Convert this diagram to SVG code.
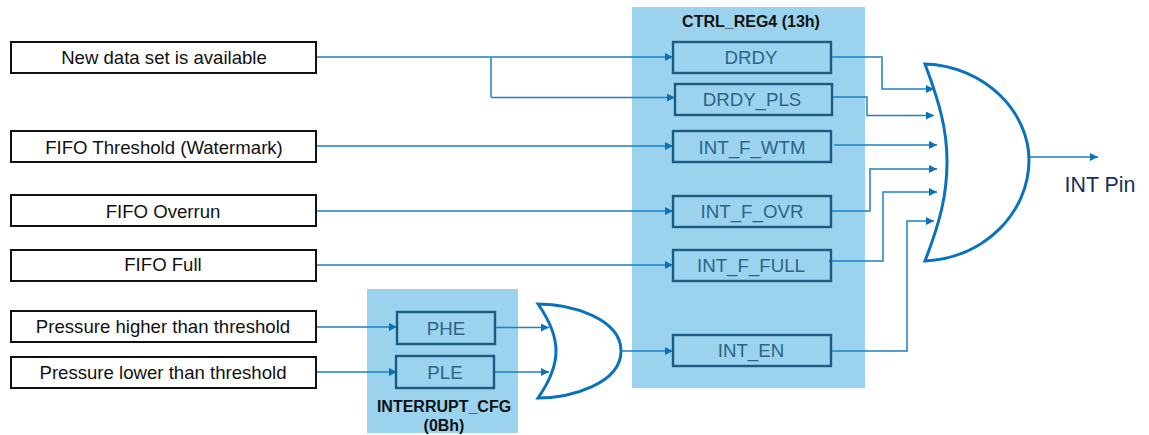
<svg xmlns="http://www.w3.org/2000/svg" width="1149" height="435" viewBox="0 0 1149 435">
<style>
text{font-family:"Liberation Sans",Arial,sans-serif;text-anchor:middle}
.panel{fill:#9bd3ee}
.src{fill:#fff;stroke:#111;stroke-width:2}
.src-t{font-size:18.6px;fill:#111}
.reg{fill:none;stroke:#1d5a80;stroke-width:2.4}
.reg-t{font-size:18.7px;fill:#2c6488}
.title{font-size:16px;font-weight:bold;fill:#111}
.gate{fill:#fff;stroke:#0a72bc;stroke-width:3;stroke-linejoin:miter}
.wire{fill:none;stroke:#1b81c8;stroke-width:1.5;marker-end:url(#arrow)}
.plain{fill:none;stroke:#1b81c8;stroke-width:1.5}
</style>
<defs>
<marker id="arrow" markerUnits="userSpaceOnUse" markerWidth="8" markerHeight="8" refX="8" refY="4" orient="auto">
<path d="M0 0L8 4L0 8Z" fill="#0a72bc"/>
</marker>
</defs>
<g id="panel-ctrl"><rect class="panel" x="632" y="7" width="233" height="381"/><text class="title" x="751" y="27">CTRL_REG4 (13h)</text></g>
<g id="panel-cfg"><rect class="panel" x="367" y="289" width="151" height="144"/><text class="title" x="444" y="412">INTERRUPT_CFG</text><text class="title" x="444" y="431">(0Bh)</text></g>
<g id="connectors">
<path class="wire" d="M316 57H673"/>
<path class="plain" d="M491 57V97"/>
<path class="wire" d="M491 97.500H675"/>
<path class="wire" d="M316 146H673"/>
<path class="wire" d="M316 211H673"/>
<path class="wire" d="M316 265H673"/>
<path class="wire" d="M316 327H397"/>
<path class="wire" d="M316 372H397"/>
<path class="wire" d="M495 327.500H549"/>
<path class="wire" d="M494 372H549"/>
<path class="wire" d="M620 351H673"/>
<path class="wire" d="M831 57H882V89H934"/>
<path class="wire" d="M832 97H867V115.500H934"/>
<path class="wire" d="M834 145H937"/>
<path class="wire" d="M831 211H870V169H937"/>
<path class="wire" d="M829 261H883V192H937"/>
<path class="wire" d="M831 351H907V221H934"/>
<path class="wire" d="M1029 157H1098"/>
</g>
<g id="src-new"><rect class="src" x="11" y="42" width="305" height="31"/><text class="src-t" x="164" y="64">New data set is available</text></g>
<g id="src-wtm"><rect class="src" x="11" y="131" width="305" height="31"/><text class="src-t" x="164" y="154">FIFO Threshold (Watermark)</text></g>
<g id="src-ovr"><rect class="src" x="11" y="195" width="305" height="31"/><text class="src-t" x="163" y="218">FIFO Overrun</text></g>
<g id="src-full"><rect class="src" x="11" y="250" width="305" height="31"/><text class="src-t" x="163" y="271">FIFO Full</text></g>
<g id="src-high"><rect class="src" x="11" y="311" width="305" height="31"/><text class="src-t" x="163" y="333">Pressure higher than threshold</text></g>
<g id="src-low"><rect class="src" x="11" y="357" width="305" height="31"/><text class="src-t" x="163" y="379">Pressure lower than threshold</text></g>
<g id="reg-drdy"><rect class="reg" x="673" y="42" width="158" height="31"/><text class="reg-t" x="751" y="64">DRDY</text></g>
<g id="reg-pls"><rect class="reg" x="675" y="84" width="157" height="31"/><text class="reg-t" x="752" y="106">DRDY_PLS</text></g>
<g id="reg-wtm"><rect class="reg" x="673" y="131" width="158" height="31"/><text class="reg-t" x="752" y="154">INT_F_WTM</text></g>
<g id="reg-ovr"><rect class="reg" x="673" y="196" width="158" height="31"/><text class="reg-t" x="752" y="218">INT_F_OVR</text></g>
<g id="reg-full"><rect class="reg" x="673" y="250" width="158" height="31"/><text class="reg-t" x="751" y="272">INT_F_FULL</text></g>
<g id="reg-en"><rect class="reg" x="673" y="335" width="158" height="31"/><text class="reg-t" x="751" y="357">INT_EN</text></g>
<g id="reg-phe"><rect class="reg" x="397" y="312" width="98" height="32"/><text class="reg-t" x="446" y="335">PHE</text></g>
<g id="reg-ple"><rect class="reg" x="396" y="356" width="98" height="32"/><text class="reg-t" x="445" y="379">PLE</text></g>
<g id="gate-small"><path class="gate" d="M538 304C570 304 621 318 621 351C621 384 570 398 538 398C552 378 556 364 556 351C556 338 552 324 538 304Z"/></g>
<g id="gate-large"><path class="gate" d="M925 64C985 66 1029 112 1029 160C1029 212 985 258 925 261C940 222 947 195 947 162C947 130 940 104 925 64Z"/></g>
<g id="label-int"><text x="1100" y="192" font-size="21.400" fill="#13315f">INT Pin</text></g>
</svg>
